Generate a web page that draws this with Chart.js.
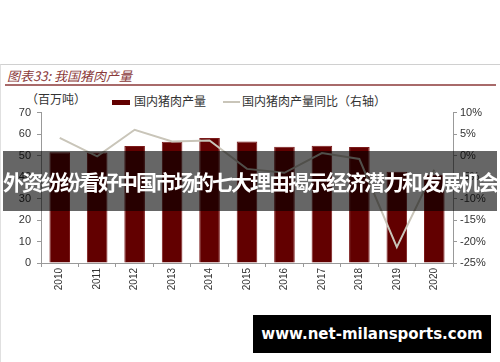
<html>
<head>
<meta charset="utf-8">
<title>我国猪肉产量</title>
<script src="https://cdn.jsdelivr.net/npm/chart.js"></script>
<style>
  body { margin: 0; background: #fff; width: 500px; height: 362px; overflow: hidden; position: relative; font-family: "Noto Sans CJK SC", sans-serif; }
  .abs { position: absolute; }
  #frame { left: 0; top: 64px; width: 500px; height: 298px; border-top: 1px solid #d0d0d0; border-left: 1px solid #e0e0e0; }
  #title { left: 7px; top: 66px; font-size: 13px; font-style: italic; color: #8b3a3a; }
  #rule { left: 5px; top: 84px; width: 491px; height: 2px; background: #a86a6a; }
  .lg { font-size: 12px; color: #333; top: 92px; }
  #unit { left: 26px; top: 90px; font-size: 12px; color: #333; }
  #banner { left: 3px; top: 151px; width: 494px; height: 60px; background: rgba(0,0,0,0.6); color: #fff; font-weight: bold; font-size: 21px; letter-spacing: -2px; line-height: 60px; text-align: center; white-space: nowrap; z-index: 5; }
  #site { left: 253px; top: 315px; width: 238px; height: 38px; background: #000; color: #fff; font-family: "DejaVu Sans", sans-serif; font-weight: bold; font-size: 15px; line-height: 38px; text-align: center; z-index: 5; }
  #wrap { left: 0; top: 100px; width: 500px; height: 210px; }
</style>
</head>
<body>
<div class="abs" id="frame"></div>
<div class="abs" id="title">图表33: 我国猪肉产量</div>
<div class="abs" id="rule"></div>
<div class="abs" id="unit">（百万吨）</div>
<div class="abs" style="left:112px;top:100px;width:18px;height:5px;background:#620000"></div>
<div class="abs lg" style="left:134px">国内猪肉产量</div>
<div class="abs" style="left:223px;top:101px;width:17px;height:2px;background:#c9c5b9"></div>
<div class="abs lg" style="left:242px">国内猪肉产量同比（右轴）</div>
<div class="abs" id="wrap"><canvas id="myChart" width="500" height="210"></canvas></div>
<div class="abs" id="banner">外资纷纷看好中国市场的七大理由揭示经济潜力和发展机会</div>
<div class="abs" id="site">www.net-milansports.com</div>
<script>
    // values
    var years = ['2010', '2011', '2012', '2013', '2014', '2015', '2016', '2017', '2018', '2019', '2020'];
    var output = [51.5, 51.4, 54.4, 56.4, 58.2, 56.5, 54.1, 54.6, 54.0, 42.5, 41.1];
    var yoy = [4.1, -0.2, 6.0, 3.3, 3.5, -3.1, -4.0, 0.6, -0.8, -21.3, -3.3];

    var axisColor = '#999';
    var tickColor = '#333';

    var data = {
        labels: years,
        datasets: [{
            type: 'line',
            label: '国内猪肉产量同比（右轴）',
            data: yoy,
            yAxisID: 'y1',
            borderColor: '#c9c5b9',
            borderWidth: 2,
            pointRadius: 0,
            tension: 0,
            order: 0
        }, {
            type: 'bar',
            label: '国内猪肉产量',
            data: output,
            yAxisID: 'y',
            backgroundColor: '#620000',
            borderColor: '#7a1a1a',
            borderWidth: 1,
            categoryPercentage: 1,
            barPercentage: 0.55,
            order: 1
        }]
    };

    const config = {
        data: data,
        options: {
            responsive: false,
            animation: false,
            devicePixelRatio: 1,
            layout: { padding: { top: 11, left: 0, right: 0, bottom: 0 } },
            plugins: {
                legend: { display: false },
                tooltip: { enabled: false }
            },
            scales: {
                x: {
                    offset: true,
                    grid: { offset: true, drawOnChartArea: false, color: axisColor, tickLength: 4 },
                    border: { color: axisColor },
                    ticks: { color: tickColor, font: { family: 'Liberation Sans', size: 10 }, minRotation: 90, maxRotation: 90, padding: 1 },
                    afterFit: function (s) { s.height = 47; }
                },
                y: {
                    position: 'left',
                    min: 0, max: 70,
                    ticks: { stepSize: 10, color: tickColor, font: { family: 'Liberation Sans', size: 11 }, padding: 6 },
                    grid: { drawOnChartArea: false, color: axisColor, tickLength: 4 },
                    border: { color: axisColor },
                    afterFit: function (s) { s.width = 41; }
                },
                y1: {
                    position: 'right',
                    min: -25, max: 10,
                    ticks: { stepSize: 5, color: tickColor, font: { family: 'Liberation Sans', size: 11 }, padding: 3,
                        callback: function (v) { return v + '%'; } },
                    grid: { drawOnChartArea: false, color: axisColor, tickLength: 4 },
                    border: { color: axisColor },
                    afterFit: function (s) { s.width = 47; }
                }
            }
        }
    };
    const myChart = new Chart(document.getElementById('myChart'), config);
</script>
</body>
</html>
